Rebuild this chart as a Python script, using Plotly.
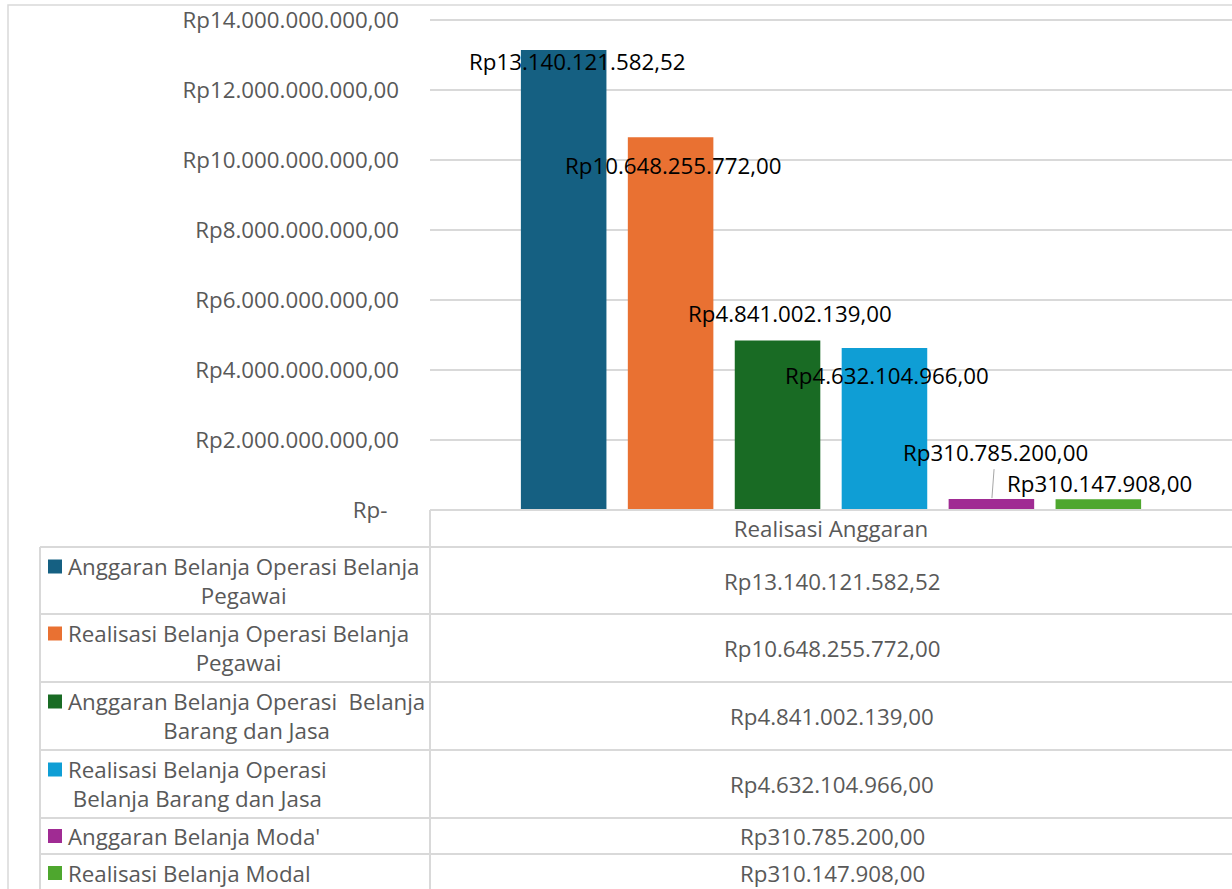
import plotly.graph_objects as go

category = "Realisasi Anggaran"
series_names = [
    "Anggaran Belanja Operasi Belanja<br>Pegawai",
    "Realisasi Belanja Operasi Belanja<br>Pegawai",
    "Anggaran Belanja Operasi  Belanja<br>Barang dan Jasa",
    "Realisasi Belanja Operasi<br>Belanja Barang dan Jasa",
    "Anggaran Belanja Moda'",
    "Realisasi Belanja Modal",
]
values = [13140121582.52, 10648255772.00, 4841002139.00, 4632104966.00, 310785200.00, 310147908.00]
colors = ["#156082", "#E97132", "#196B24", "#0F9ED5", "#A02B93", "#4EA72E"]
tick_vals = [0, 2e9, 4e9, 6e9, 8e9, 10e9, 12e9, 14e9]

def rp(v):
    if v == 0:
        return "Rp-\u00a0\u00a0"
    s = f"{v:,.2f}".replace(",", "X").replace(".", ",").replace("X", ".")
    return "Rp" + s

tick_text = [rp(v) for v in tick_vals]

OFF = 0  # body margin removed via post_script
W, H = 1232, 889
YMAX = 14e9
EXTRA = 2  # px of headroom above the top gridline so it is drawn
ML, MR, MT, MB = 430, 0, 20 - EXTRA, 379
PW, PH = W - ML - MR, H - MT - MB
YTOP = YMAX * PH / (PH - EXTRA)
BARGAP = 0.2
GROUPGAP = 0.2
n = len(values)

def px(x):  # page pixel -> paper
    return (x - OFF - ML) / PW

def py(y):
    return (H - MB - (y - OFF)) / PH

FONT = "Open Sans"
GRAY = "#595959"
LINE = "#d9d9d9"
FS = 22.3

fig = go.Figure()
for name, v, c in zip(series_names, values, colors):
    fig.add_trace(go.Bar(x=[category], y=[v], name=name, marker=dict(color=c, line=dict(width=0)),
                         showlegend=False))

# data label offsets (in bar-slot units horizontally, pixels vertically)
label_dx = [0.126, 0.02, 0.117, 0.023, 0.04, 0.015]
label_dy = [-11, -28, 27, -28, 47, 16]

annotations = []
shapes = []
slot = (1 - BARGAP) / n
ypp = YTOP / PH  # data units per pixel
for i, v in enumerate(values):
    xc = (i - (n - 1) / 2) * slot
    annotations.append(dict(x=xc + label_dx[i] * slot, y=v, xref="x", yref="y", text=rp(v), showarrow=False,
                            yshift=label_dy[i], font=dict(family=FONT, size=FS, color="#000000"),
                            xanchor="center", yanchor="middle"))
# leader line for 5th label
xc5 = (4 - (n - 1) / 2) * slot
shapes.append(dict(type="line", xref="x", yref="y", x0=xc5 + 0.025 * slot, x1=xc5 + 0.005 * slot,
                   y0=values[4] + 30 * ypp, y1=values[4] + 1 * ypp,
                   line=dict(color="#a6a6a6", width=1)))

# data table (page pixel positions)
row_edges = [547, 614, 682, 750, 818, 854, 890]
text_mid = [581, 648, 716, 784, 836, 873]
tbl_left = 40
plot_bottom = 510
shapes.append(dict(type="line", xref="paper", yref="paper", x0=px(430), x1=px(1240), y0=py(plot_bottom),
                   y1=py(plot_bottom), line=dict(color=LINE, width=2)))
for yy in row_edges[:-1]:
    shapes.append(dict(type="line", xref="paper", yref="paper", x0=px(tbl_left), x1=px(1240), y0=py(yy), y1=py(yy),
                       line=dict(color=LINE, width=2)))
shapes.append(dict(type="line", xref="paper", yref="paper", x0=px(tbl_left), x1=px(tbl_left), y0=py(row_edges[0]),
                   y1=py(900), line=dict(color=LINE, width=2)))
shapes.append(dict(type="line", xref="paper", yref="paper", x0=px(430), x1=px(430), y0=py(plot_bottom),
                   y1=py(900), line=dict(color=LINE, width=2)))
# chart border
shapes.append(dict(type="rect", xref="paper", yref="paper", x0=px(8), x1=px(1260), y0=py(5), y1=py(920),
                   line=dict(color=LINE, width=1.5), layer="below"))

for i, (name, v, c) in enumerate(zip(series_names, values, colors)):
    ym = text_mid[i]
    two_line = "<br>" in name
    sq_c = ym - 14.5 if two_line else ym
    shapes.append(dict(type="rect", xref="paper", yref="paper", x0=px(48), x1=px(62), y0=py(sq_c - 7),
                       y1=py(sq_c + 7), fillcolor=c, line=dict(width=0)))
    annotations.append(dict(x=px(66), y=py(ym), xref="paper", yref="paper", xanchor="left", yanchor="middle",
                            align="center", showarrow=False, text=name,
                            font=dict(family=FONT, size=FS, color=GRAY)))
    annotations.append(dict(x=px(832), y=py(ym), xref="paper", yref="paper", xanchor="center",
                            yanchor="middle", showarrow=False, text=rp(v),
                            font=dict(family=FONT, size=FS, color=GRAY)))

fig.update_layout(
    width=W, height=H,
    margin=dict(l=ML, r=MR, t=MT, b=MB, pad=0),
    paper_bgcolor="white", plot_bgcolor="white",
    barmode="group", bargap=BARGAP, bargroupgap=GROUPGAP,
    annotations=annotations, shapes=shapes,
    font=dict(family=FONT, size=FS, color=GRAY),
    xaxis=dict(showgrid=False, showline=False, zeroline=False, ticks="",
               tickfont=dict(family=FONT, size=FS, color=GRAY), ticklabelstandoff=4),
    yaxis=dict(range=[0, YTOP], tickvals=tick_vals, ticktext=tick_text, showgrid=True,
               gridcolor=LINE, gridwidth=1.5, zeroline=False, showline=False, ticks="", ticklabelstandoff=30,
               tickfont=dict(family=FONT, size=FS, color=GRAY)),
)

fig.write_html("out.html", config={"displayModeBar": False},
               post_script="document.body.style.margin='0px';")
